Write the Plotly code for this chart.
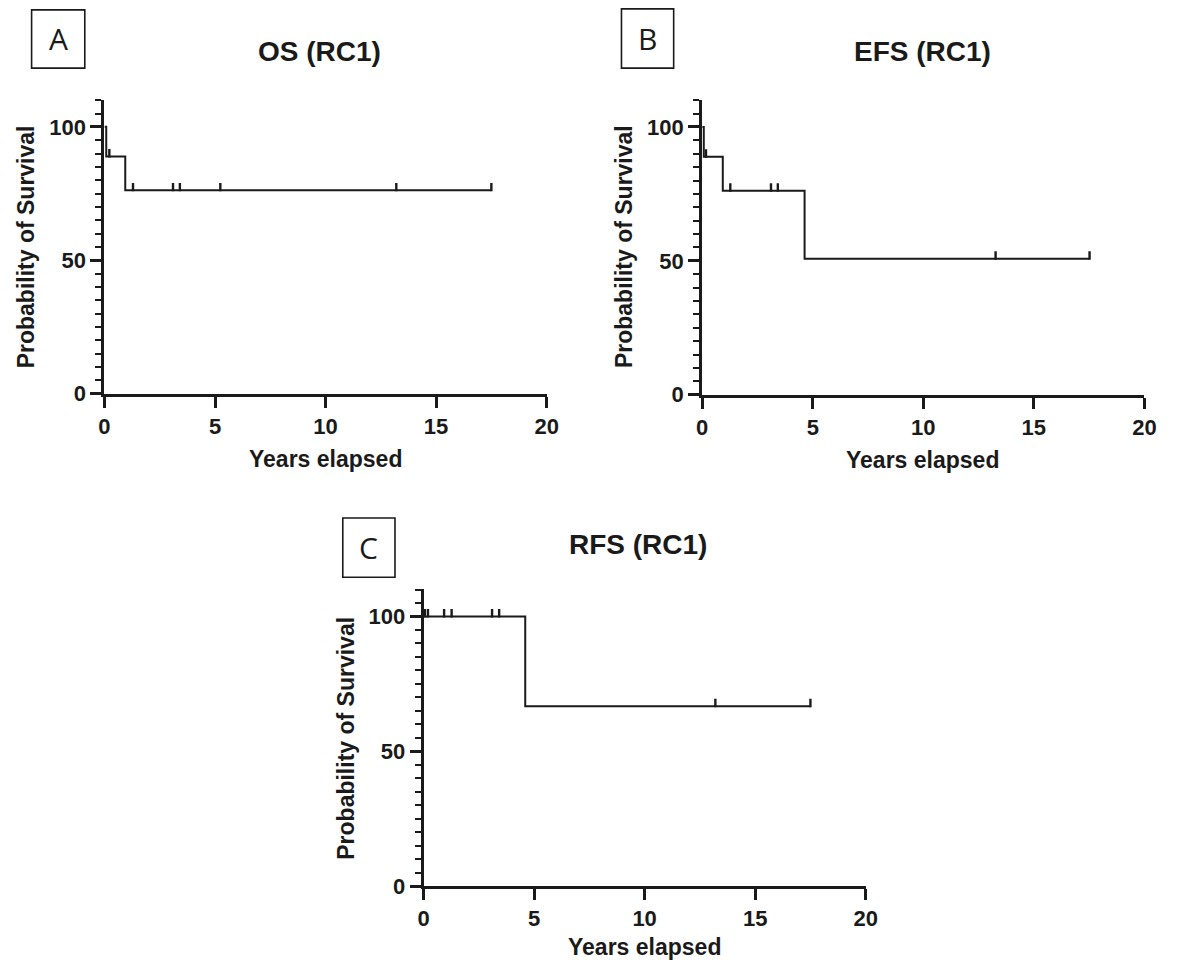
import numpy as np
import plotly.graph_objects as go

# ---------------- data ----------------
x_ticks = [0, 5, 10, 15, 20]
y_ticks = [0, 50, 100]

# Panel A: OS (RC1)
os_event_t = [0.0, 0.08, 0.94, 17.5]
os_surv = [100.0, 88.9, 76.2, 76.2]
os_cens_t = [0.22, 1.29, 3.10, 3.41, 5.24, 13.2, 17.5]

# Panel B: EFS (RC1)
efs_event_t = [0.0, 0.07, 0.93, 4.63, 17.52]
efs_surv = [100.0, 88.9, 76.2, 50.8, 50.8]
efs_cens_t = [0.17, 1.27, 3.11, 3.42, 13.27, 17.52]

# Panel C: RFS (RC1)
rfs_event_t = [0.0, 4.6, 17.5]
rfs_surv = [100.0, 66.7, 66.7]
rfs_cens_t = [0.06, 0.2, 0.93, 1.27, 3.1, 3.42, 13.2, 17.5]

titles = ["OS (RC1)", "EFS (RC1)", "RFS (RC1)"]
letters = ["A", "B", "C"]
x_title = "Years elapsed"
y_title = "Probability of Survival"

# ---------------- layout (pixels) ----------------
W, H = 1181, 973
# left, right, bottom(y=0), top(y=110)
boxes_px = [
    (100, 549, 399, 101),
    (707, 1156, 400, 101),
    (424, 873, 898, 597),
]
title_px = [(318, 52), (931, 52), (642, 552)]
xtitle_px = [(324, 465), (931, 466), (648, 960)]
ytitle_px = [(20, 250), (627, 250), (345, 748)]
letterbox_px = [(26, 10, 80, 69), (625, 9, 678, 69), (342, 525, 395, 585)]

def fx(p):
    return p / W

def fy(p):
    return 1 - p / H

FONT = "Arial, Liberation Sans, Helvetica, sans-serif"
INK = "#1a1a1a"

def step_level(t_events, s_vals, t):
    idx = np.searchsorted(np.asarray(t_events), t, side="right") - 1
    return np.asarray(s_vals)[idx]

panels = [
    (os_event_t, os_surv, os_cens_t),
    (efs_event_t, efs_surv, efs_cens_t),
    (rfs_event_t, rfs_surv, rfs_cens_t),
]

fig = go.Figure()
annotations = []
shapes = []

for i, (et, sv, ct) in enumerate(panels):
    n = i + 1
    xa = "x" if n == 1 else f"x{n}"
    ya = "y" if n == 1 else f"y{n}"
    fig.add_trace(go.Scatter(
        x=et, y=sv, mode="lines", line=dict(shape="hv", color=INK, width=2),
        xaxis=xa, yaxis=ya, showlegend=False, hoverinfo="skip"))
    cy = step_level(et, sv, np.asarray(ct)) + 1.2
    fig.add_trace(go.Scatter(
        x=ct, y=cy, mode="markers",
        marker=dict(symbol="line-ns", size=6, line=dict(color=INK, width=2.4)),
        xaxis=xa, yaxis=ya, showlegend=False, hoverinfo="skip"))

    l, r, b, t = boxes_px[i]
    axis_common = dict(
        showline=True, linecolor=INK, linewidth=3, ticks="outside",
        tickcolor=INK, tickwidth=3, ticklen=11, showgrid=False, zeroline=False,
        tickfont=dict(family=FONT, size=22, color=INK, weight="bold"),
        fixedrange=True,
    )
    xkey = "xaxis" if n == 1 else f"xaxis{n}"
    ykey = "yaxis" if n == 1 else f"yaxis{n}"
    fig.update_layout(**{
        xkey: dict(axis_common, domain=[fx(l), fx(r)], range=[0, 20],
                   tickvals=x_ticks, ticktext=[str(v) for v in x_ticks],
                   anchor=ya),
        ykey: dict(axis_common, domain=[fy(b), fy(t)], range=[0, 110.2],
                   tickvals=y_ticks, ticktext=[str(v) for v in y_ticks],
                   anchor=xa,
                   minor=dict(tickvals=list(range(0, 111, 5)), ticks="outside",
                              ticklen=6, tickwidth=2.2, tickcolor=INK)),
    })

    tx, ty = title_px[i]
    annotations.append(dict(text=f"<b>{titles[i]}</b>", x=fx(tx), y=fy(ty),
                            xref="paper", yref="paper", showarrow=False,
                            xanchor="center", yanchor="middle",
                            font=dict(family=FONT, size=28, color=INK)))
    xx, xy = xtitle_px[i]
    annotations.append(dict(text=f"<b>{x_title}</b>", x=fx(xx), y=fy(xy),
                            xref="paper", yref="paper", showarrow=False,
                            xanchor="center", yanchor="middle",
                            font=dict(family=FONT, size=23, color=INK)))
    yx, yy = ytitle_px[i]
    annotations.append(dict(text=f"<b>{y_title}</b>", x=fx(yx), y=fy(yy),
                            xref="paper", yref="paper", showarrow=False,
                            xanchor="center", yanchor="middle", textangle=-90,
                            font=dict(family=FONT, size=23, color=INK)))
    bx0, by0, bx1, by1 = letterbox_px[i]
    shapes.append(dict(type="rect", xref="paper", yref="paper",
                       x0=fx(bx0), x1=fx(bx1), y0=fy(by1), y1=fy(by0),
                       line=dict(color=INK, width=1.6), fillcolor="rgba(0,0,0,0)"))
    annotations.append(dict(text=letters[i], x=fx((bx0 + bx1) / 2), y=fy((by0 + by1) / 2),
                            xref="paper", yref="paper", showarrow=False,
                            xanchor="center", yanchor="middle",
                            font=dict(family="Open Sans, Noto Sans, sans-serif", size=30, color=INK)))

fig.update_layout(
    width=W, height=H, margin=dict(l=0, r=0, t=0, b=0),
    paper_bgcolor="white", plot_bgcolor="white",
    annotations=annotations, shapes=shapes,
)

fig.write_html("out.html")
